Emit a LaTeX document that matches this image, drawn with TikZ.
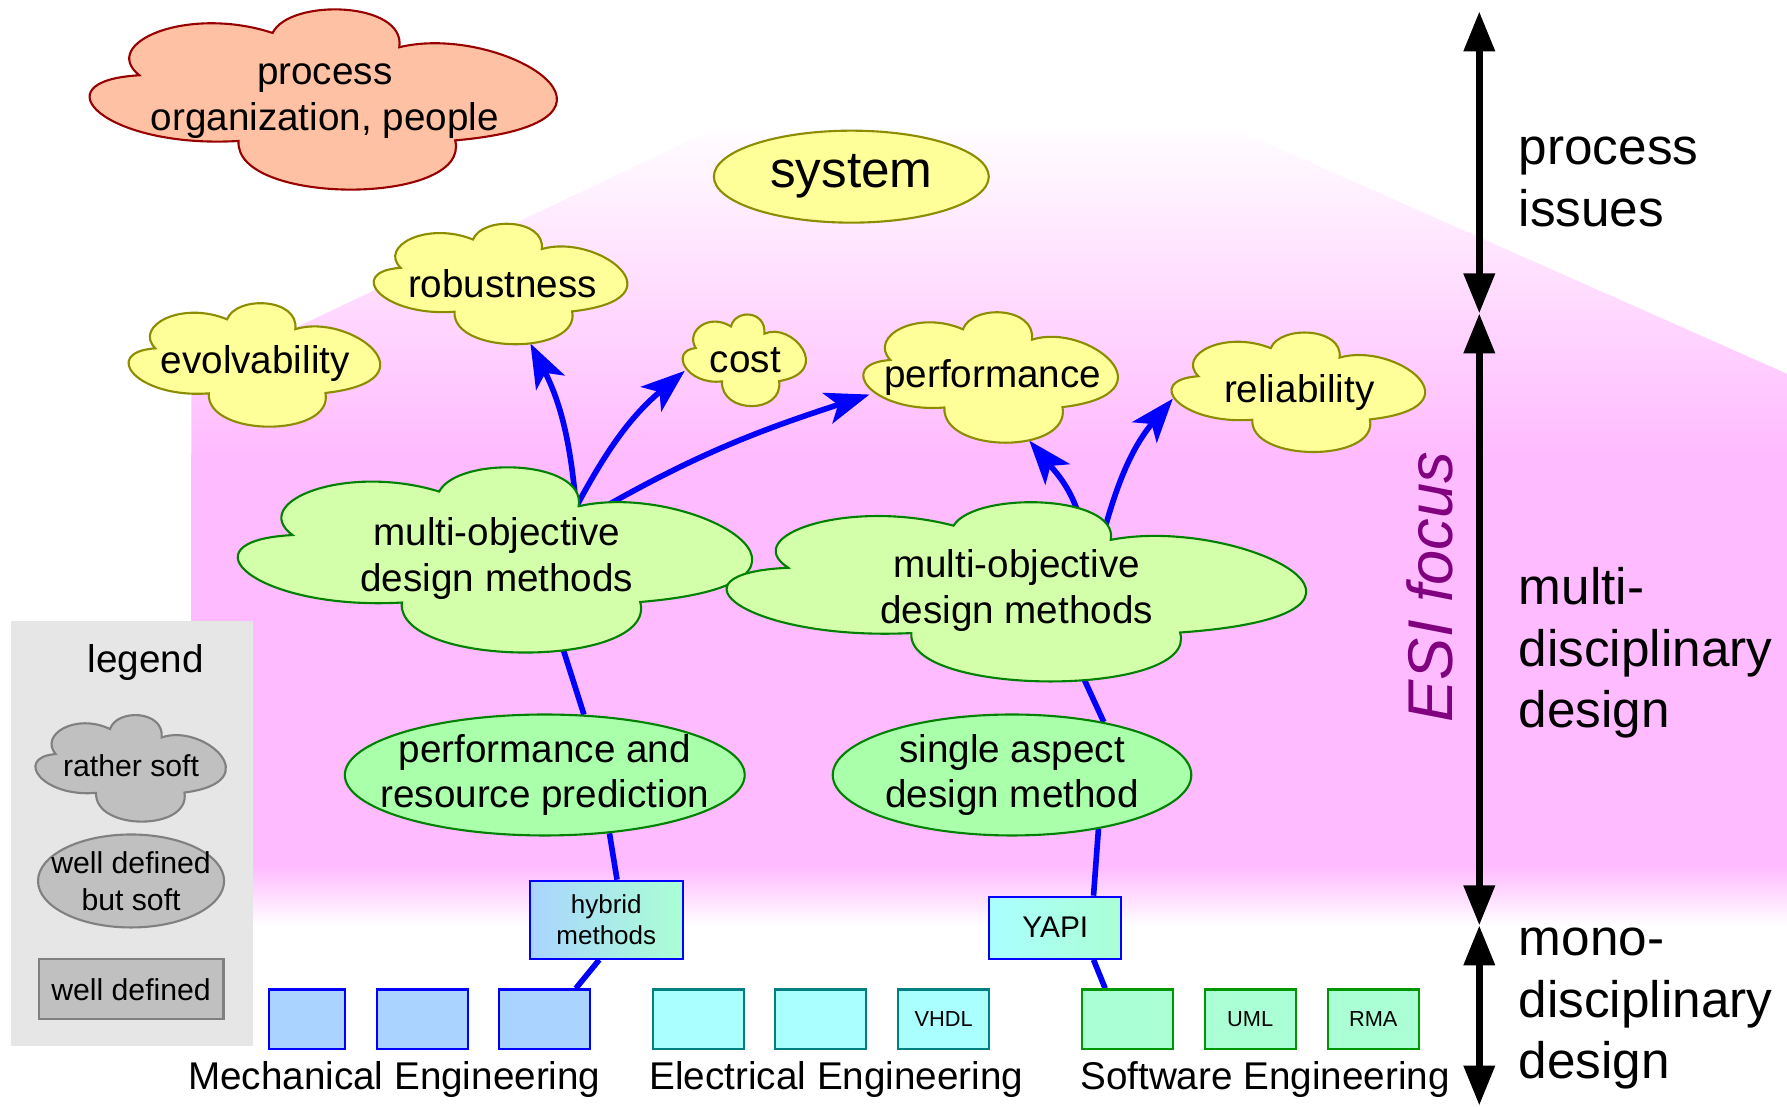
\documentclass[tikz,border=0pt]{standalone}
\usepackage{fontspec}
\setmainfont{Liberation Sans}
\usetikzlibrary{shapes.geometric,arrows.meta,calc}
\pgfdeclarelayer{back}
\pgfdeclarelayer{wires}
\pgfsetlayers{back,wires,main}
\definecolor{bgpink}{RGB}{255,187,255}
\definecolor{salmon}{RGB}{255,193,163}
\definecolor{darkred}{RGB}{150,0,0}
\definecolor{paleyellow}{RGB}{255,255,153}
\definecolor{olivedraw}{RGB}{140,140,0}
\definecolor{palelime}{RGB}{212,255,170}
\definecolor{palegreen}{RGB}{170,255,170}
\definecolor{darkgreen}{RGB}{0,128,0}
\definecolor{mechblue}{RGB}{170,212,255}
\definecolor{eleccyan}{RGB}{170,255,255}
\definecolor{swmint}{RGB}{170,255,212}
\definecolor{tealdraw}{RGB}{0,128,128}
\definecolor{swgreen}{RGB}{0,150,0}
\definecolor{legendgray}{RGB}{192,192,192}
\definecolor{legendbg}{RGB}{230,230,230}
\definecolor{esipurple}{RGB}{128,0,128}
\begin{document}
\begin{tikzpicture}[x=1.14cm,y=-1.14cm,
  every node/.style={inner sep=0pt,align=center,font=\fontsize{11}{13}\selectfont},
  % five lobed cloud, #1 = width, #2 = height (cm)
  pics/blob/.style 2 args={code={
    \path[pic actions,xscale=#1/2,yscale=#2/2] (-0.806cm,0.264cm)
      .. controls (-0.98cm,0.62cm) and (-0.60cm,1.04cm) .. (-0.234cm,0.732cm)
      .. controls (-0.16cm,1.12cm) and (0.34cm,1.08cm) .. (0.31cm,0.574cm)
      .. controls (0.75cm,0.85cm) and (1.45cm,-0.25cm) .. (0.55cm,-0.456cm)
      .. controls (0.62cm,-1.18cm) and (-0.40cm,-1.18cm) .. (-0.38cm,-0.462cm)
      .. controls (-0.95cm,-0.55cm) and (-1.25cm,0.2cm) .. (-0.806cm,0.264cm) -- cycle;}},
  puff/.style={line width=0.6pt},
  quality/.style={puff,fill=paleyellow,draw=olivedraw},
  method/.style={puff,fill=palelime,draw=darkgreen},
  puffgray/.style={puff,fill=legendgray,draw=gray},
  cloudtext/.style={ellipse,inner xsep=-5mm},
  predict/.style={ellipse,draw=darkgreen,fill=palegreen,line width=0.6pt},
  tool/.style={rectangle,draw=blue,line width=0.6pt,minimum height=0.62cm},
  discbox/.style={rectangle,line width=0.6pt,minimum width=0.91cm,minimum height=0.6cm,font=\fontsize{6.2}{7}\selectfont},
  mech/.style={discbox,fill=mechblue,draw=blue},
  elec/.style={discbox,fill=eleccyan,draw=tealdraw},
  swbox/.style={discbox,fill=swmint,draw=swgreen},
  legitem/.style={draw=gray,fill=legendgray,line width=0.6pt,font=\fontsize{8.6}{10.4}\selectfont},
  sidelabel/.style={anchor=west,align=left,font=\fontsize{14.6}{17.5}\selectfont},
  link/.style={blue,line width=1.6pt,-{Stealth[length=4.4mm,width=3.2mm,inset=1.1mm]}},
  tie/.style={blue,line width=1.6pt},
  band/.style={line width=2pt,{Triangle[length=4mm,width=3mm]}-{Triangle[length=4mm,width=3mm]}}
]
\useasboundingbox (0,0) rectangle (15.68,9.71);
% pink focus area, fading out at top and bottom
\begin{pgfonlayer}{back}
\shade[top color=bgpink!4,bottom color=bgpink] (1.68,4.0) -- (1.68,3.31) -- (6.2,1.16) -- (10.9,1.16) -- (15.68,3.28) -- (15.68,4.0) -- cycle;
\fill[bgpink] (1.68,3.99) rectangle (15.68,7.61);
\shade[top color=bgpink,bottom color=white] (1.68,7.6) rectangle (15.68,8.12);
\fill[legendbg] (0.1,5.45) rectangle (2.22,9.18);
\end{pgfonlayer}

% soft issues
\pic[puff,fill=salmon,draw=darkred] at (2.87,0.87) {blob={4.66}{1.81}};
\node[cloudtext,minimum width=4.66cm,minimum height=1.81cm] (org) at (2.85,0.89) {process\\organization, people};
\node[ellipse,fill=paleyellow,draw=olivedraw,line width=0.6pt,minimum width=2.75cm,minimum height=0.92cm,font=\fontsize{14.6}{17}\selectfont] (sys) at (7.47,1.55) {system};
\pic[quality] at (4.41,2.49) {blob={2.53}{1.21}};
\node[cloudtext,minimum width=2.53cm,minimum height=1.21cm] (rob) at (4.41,2.49) {robustness};
\pic[quality] at (2.25,3.20) {blob={2.51}{1.24}};
\node[cloudtext,minimum width=2.51cm,minimum height=1.24cm] (evo) at (2.24,3.19) {evolvability};
\pic[quality] at (6.54,3.16) {blob={1.23}{0.92}};
\node[cloudtext,minimum width=1.23cm,minimum height=0.92cm] (cost) at (6.54,3.16) {cost};
\pic[quality] at (8.71,3.31) {blob={2.54}{1.31}};
\node[cloudtext,minimum width=2.54cm,minimum height=1.31cm] (perf) at (8.71,3.31) {performance};
\pic[quality] at (11.41,3.44) {blob={2.53}{1.20}};
\node[cloudtext,minimum width=2.53cm,minimum height=1.20cm] (rel) at (11.40,3.44) {reliability};
\pic[method] at (4.38,4.91) {blob={5.13}{1.86}};
\node[cloudtext,minimum width=5.13cm,minimum height=1.86cm] (mol) at (4.36,4.90) {multi-objective\\design methods};
\pic[method] at (8.96,5.19) {blob={5.78}{1.80}};
\node[cloudtext,minimum width=5.78cm,minimum height=1.80cm] (mor) at (8.92,5.18) {multi-objective\\design methods};
\node[predict,minimum width=4.0cm,minimum height=1.21cm,inner xsep=-2.3mm] (par) at (4.78,6.80) {performance and\\resource prediction};
\node[predict,minimum width=3.53cm,minimum height=1.21cm] (sad) at (8.88,6.80) {single aspect\\design method};
\node[tool,left color=mechblue,right color=swmint,minimum width=1.53cm,minimum height=0.78cm,font=\fontsize{7.4}{8.8}\selectfont] (hyb) at (5.32,8.07) {hybrid\\methods};
\node[tool,left color=eleccyan,right color=swmint,minimum width=1.32cm,font=\fontsize{8.5}{10}\selectfont] (yapi) at (9.26,8.14) {YAPI};

% mono-disciplinary boxes
\node[mech,minimum width=0.76cm] (me1) at (2.695,8.945) {};
\node[mech] (me2) at (3.71,8.945) {};
\node[mech] (me3) at (4.78,8.945) {};
\node[elec] (ee1) at (6.13,8.945) {};
\node[elec] (ee2) at (7.20,8.945) {};
\node[elec] (vhdl) at (8.28,8.945) {VHDL};
\node[swbox] (se1) at (9.895,8.945) {};
\node[swbox] (uml) at (10.97,8.945) {UML};
\node[swbox] (rma) at (12.05,8.945) {RMA};
\node (mechlbl) at (3.46,9.47) {Mechanical Engineering};
\node (eleclbl) at (7.34,9.47) {Electrical Engineering};
\node (swlbl) at (11.10,9.47) {Software Engineering};

% legend
\node (legend) at (1.28,5.81) {legend};
\pic[puffgray] at (1.16,6.74) {blob={1.90}{1.07}};
\node[cloudtext,minimum width=1.90cm,minimum height=1.07cm,font=\fontsize{8.6}{10.4}\selectfont] (lsoft) at (1.15,6.72) {rather soft};
\node[legitem,ellipse,minimum width=1.86cm,minimum height=0.93cm,inner xsep=-1.4mm] (lwds) at (1.15,7.73) {well defined\\but soft};
\node[legitem,rectangle,minimum width=1.85cm,minimum height=0.60cm] (lwd) at (1.15,8.68) {well defined};

% scope bar on the right
\node[rotate=90,text=esipurple,font=\fontsize{18}{20}\selectfont\itshape] (esi) at (12.55,5.15) {ESI focus};
\node[sidelabel] (procissues) at (13.32,1.595) {process\\issues};
\node[sidelabel] (multi) at (13.32,5.73) {multi-\\disciplinary\\design};
\node[sidelabel] (mono) at (13.32,8.85) {mono-\\disciplinary\\design};
\coordinate (bartop) at (12.98,0.10);
\coordinate (procend) at (12.98,2.75);
\coordinate (multiend) at (12.98,8.12);
\coordinate (barbottom) at (12.98,9.70);
\draw[band] (bartop) -- (procend);
\draw[band] (procend) -- (multiend);
\draw[band] (multiend) -- (barbottom);

% method chains, running behind the clouds
\begin{pgfonlayer}{wires}
\draw[link] ($(mol.center)!0.63!(mol.33)$) to[out=95,in=-63] (rob.-65);
\draw[link] ($(mol.center)!0.63!(mol.33)$) to[out=62,in=-140] (cost.-170);
\draw[link] ($(mol.center)!0.6!(mol.25)$) to[out=30,in=-162] (perf.188);
\draw[tie] ($(mol.center)!0.8!(mol.-50)$) -- (par.57);
\draw[tie] (par.-42) -- (hyb.75);
\draw[tie] (hyb.-100) -- (me3.45);
\draw[link] ($(mor.center)!0.66!(mor.40)$) to[out=100,in=-50] (perf.-60);
\draw[link] ($(mor.center)!0.69!(mor.33)$) to[out=75,in=-130] (rel.183);
\draw[tie] ($(mor.center)!0.8!(mor.-50)$) -- (sad.30);
\draw[tie] (sad.-32) -- (yapi.40);
\draw[tie] (yapi.-40) -- (se1.126);
\end{pgfonlayer}
\end{tikzpicture}
\end{document}
